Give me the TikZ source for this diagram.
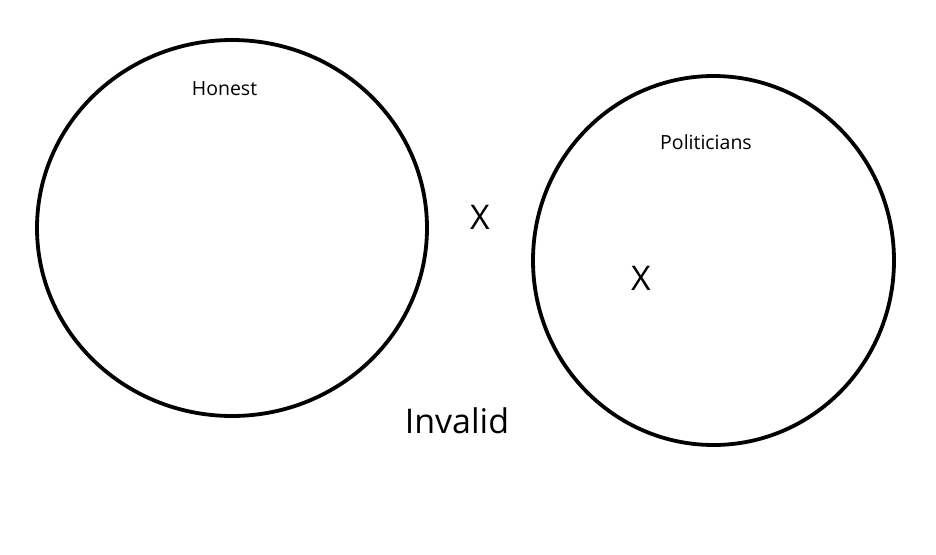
\documentclass[tikz,border=0pt]{standalone}
\usepackage{fontspec}
\setmainfont{Open Sans}
\begin{document}
\begin{tikzpicture}[x=1pt,y=-1pt,
  setcircle/.style={draw=black,line width=3.8pt},
  smalllabel/.style={inner sep=0pt,font=\fontsize{19.5}{22}\selectfont},
  biglabel/.style={inner sep=0pt,font=\fontsize{34}{40}\selectfont}]
\useasboundingbox[fill=white] (0,0) rectangle (936,554);
\draw[setcircle] (232,228) ellipse [x radius=195, y radius=188];
\draw[setcircle] (713.5,260.5) ellipse [x radius=180.5, y radius=184.5];
\node[smalllabel] (honest) at (224.5,89) {Honest};
\node[smalllabel] (politicians) at (706,142) {Politicians};
\node[biglabel] (x1) at (480,217) {X};
\node[biglabel] (x2) at (641,278) {X};
\node[biglabel] (invalid) at (457,421) {Invalid};
\end{tikzpicture}
\end{document}
